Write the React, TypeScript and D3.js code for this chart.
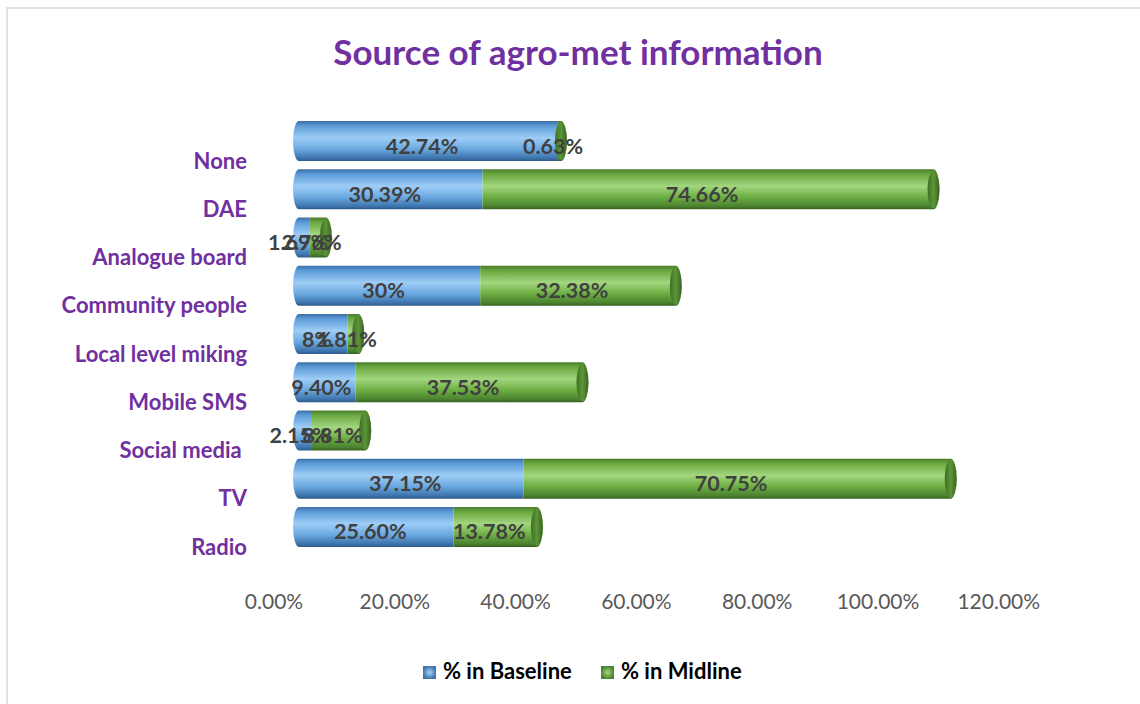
import React from "react";
import * as d3 from "d3";

const categories = ["None", "DAE", "Analogue board", "Community people", "Local level miking", "Mobile SMS", "Social media ", "TV", "Radio"];
const baseline = [42.74, 30.39, 1.69, 30, 8, 9.4, 2.15, 37.15, 25.6];
const midline = [0.63, 74.66, 2.76, 32.38, 1.81, 37.53, 8.81, 70.75, 13.78];
const baselineLabels = ["42.74%", "30.39%", "1.69%", "30%", "8%", "9.40%", "2.15%", "37.15%", "25.60%"];
const midlineLabels = ["0.63%", "74.66%", "2.76%", "32.38%", "1.81%", "37.53%", "8.81%", "70.75%", "13.78%"];
const ticks = [0, 20, 40, 60, 80, 100, 120];
const seriesNames = ["% in Baseline", "% in Midline"];

const W = 1140, H = 704;
const FONT = "Lato, 'Open Sans', sans-serif";
const PURPLE = "#7030A0";

export default function App() {
  const x = d3.scaleLinear().domain([0, 120]).range([299, 299 + 120 * 6.04]);
  const y = d3.scaleBand<string>().domain(categories).range([117, 551]).paddingInner(0.17).paddingOuter(0.085);
  const bh = 40;
  const rx = 6;
  const ry = bh / 2;

  const segPath = (x0: number, x1: number, cy: number, leftRound: boolean, rightRound: boolean) => {
    const t = cy - ry, b = cy + ry;
    let p = `M${x0},${t} L${x1},${t}`;
    if (rightRound) p += ` A${rx},${ry} 0 0 1 ${x1},${b}`;
    else p += ` L${x1},${b}`;
    p += ` L${x0},${b}`;
    if (leftRound) p += ` A${rx},${ry} 0 0 1 ${x0},${t}`;
    else p += ` L${x0},${t}`;
    return p + "Z";
  };

  const tickFmt = d3.format(".2f");

  return (
    <div style={{ position: "absolute", left: 0, top: 0 }}>
      <svg width={W} height={H} style={{ display: "block", background: "#fff" }}>
        <defs>
          <linearGradient id="gBlue" x1="0" y1="0" x2="0" y2="1">
            <stop offset="0" stopColor="#3B6EA5" />
            <stop offset="0.12" stopColor="#5C9BD8" />
            <stop offset="0.42" stopColor="#9ECDF6" />
            <stop offset="0.7" stopColor="#6AA8E0" />
            <stop offset="0.92" stopColor="#3F75AE" />
            <stop offset="1" stopColor="#2C5A8C" />
          </linearGradient>
          <linearGradient id="gGreen" x1="0" y1="0" x2="0" y2="1">
            <stop offset="0" stopColor="#4A7D2D" />
            <stop offset="0.12" stopColor="#69A83F" />
            <stop offset="0.42" stopColor="#A3D67F" />
            <stop offset="0.7" stopColor="#6CAE42" />
            <stop offset="0.92" stopColor="#4C8330" />
            <stop offset="1" stopColor="#37611F" />
          </linearGradient>
          <linearGradient id="gCap" x1="0" y1="0" x2="1" y2="0">
            <stop offset="0" stopColor="#3F6E26" />
            <stop offset="0.5" stopColor="#5C9637" />
            <stop offset="1" stopColor="#3A6322" />
          </linearGradient>
          <radialGradient id="lgBlue">
            <stop offset="0" stopColor="#A9D2F5" />
            <stop offset="1" stopColor="#3F75AE" />
          </radialGradient>
          <radialGradient id="lgGreen">
            <stop offset="0" stopColor="#A3D67F" />
            <stop offset="1" stopColor="#4C8330" />
          </radialGradient>
        </defs>

        <rect x={7} y={8} width={W} height={H} fill="none" stroke="#D9D9D9" strokeWidth={1.5} />

        <text x={578} y={65} textAnchor="middle" fill={PURPLE} fontFamily={FONT} fontWeight="bold" fontSize={35}>
          Source of agro-met information
        </text>

        {categories.map((c, i) => {
          const cy = (y(c) as number) + y.bandwidth() / 2;
          const x0 = x(0);
          const xb = x(baseline[i]);
          const x1 = x(baseline[i] + midline[i]);
          return (
            <g key={c}>
              <path d={segPath(x0, xb, cy, true, false)} fill="url(#gBlue)" />
              <path d={segPath(xb, x1, cy, false, true)} fill="url(#gGreen)" />
              <ellipse cx={x1} cy={cy} rx={rx} ry={ry - 1} fill="url(#gCap)" />
              <text x={(x0 + xb) / 2 - 6} y={cy + 7} textAnchor="middle" dominantBaseline="middle" fill="#404040" fontFamily={FONT} fontWeight="bold" fontSize={21.5}>
                {baselineLabels[i]}
              </text>
              <text x={(xb + x1) / 2 - 6} y={cy + 7} textAnchor="middle" dominantBaseline="middle" fill="#404040" fontFamily={FONT} fontWeight="bold" fontSize={21.5}>
                {midlineLabels[i]}
              </text>
              <text x={247} y={cy + 22} textAnchor="end" dominantBaseline="middle" fill={PURPLE} fontFamily={FONT} fontWeight="bold" fontSize={22} style={{ whiteSpace: "pre" }}>
                {c}
              </text>
            </g>
          );
        })}

        {ticks.map((t) => (
          <text key={t} x={x(t) - 25} y={604} textAnchor="middle" dominantBaseline="middle" fill="#595959" fontFamily={FONT} fontSize={21}>
            {tickFmt(t)}%
          </text>
        ))}

        {seriesNames.map((s, i) => {
          const lx = i === 0 ? 423 : 601;
          return (
            <g key={s}>
              <rect x={lx} y={666} width={13} height={13} fill={i === 0 ? "url(#lgBlue)" : "url(#lgGreen)"} />
              <text x={lx + 20} y={673} dominantBaseline="middle" fill="#000" fontFamily={FONT} fontWeight="bold" fontSize={22}>
                {s}
              </text>
            </g>
          );
        })}
      </svg>
    </div>
  );
}
